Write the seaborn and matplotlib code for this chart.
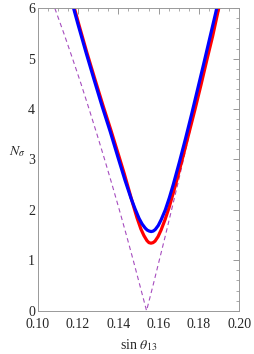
import numpy as np
import pandas as pd
import matplotlib
matplotlib.use("Agg")
import matplotlib.pyplot as plt
from matplotlib.ticker import MultipleLocator
import seaborn as sns

# values (sin theta13 , N sigma)
blue_s = [0.1176, 0.1200, 0.1240, 0.1280, 0.1320, 0.1360, 0.1400, 0.1433, 0.1463, 0.1483,
          0.1503, 0.1518, 0.1533, 0.1543, 0.1553, 0.1563, 0.1573, 0.1583, 0.1598, 0.1613,
          0.1633, 0.1653, 0.1673, 0.1703, 0.1733, 0.1763, 0.1793, 0.1823, 0.1853, 0.1883, 0.1888]
blue_n = [6.03, 5.68, 5.12, 4.58, 4.05, 3.55, 3.02, 2.59, 2.23, 2.02,
          1.83, 1.72, 1.64, 1.60, 1.58, 1.57, 1.58, 1.61, 1.69, 1.81,
          2.00, 2.24, 2.51, 2.95, 3.41, 3.89, 4.39, 4.89, 5.40, 5.91, 6.00]

red_s = [0.1180, 0.1204, 0.1244, 0.1284, 0.1324, 0.1364, 0.1404, 0.1430, 0.1452, 0.1472,
         0.1492, 0.1512, 0.1527, 0.1542, 0.1552, 0.1562, 0.1572, 0.1582, 0.1597, 0.1612,
         0.1632, 0.1652, 0.1672, 0.1690, 0.1720, 0.1750, 0.1780, 0.1810, 0.1840, 0.1868,
         0.1894, 0.1898]
red_n = [6.03, 5.68, 5.12, 4.59, 4.07, 3.57, 3.05, 2.71, 2.40, 2.12,
         1.85, 1.62, 1.49, 1.39, 1.35, 1.34, 1.35, 1.38, 1.47, 1.60,
         1.81, 2.05, 2.33, 2.59, 3.05, 3.52, 3.99, 4.48, 4.99, 5.45,
         5.93, 6.00]

dash_s = [0.1085, 0.1130, 0.1173, 0.1215, 0.1255, 0.1294, 0.1332, 0.1369, 0.1405, 0.1440, 0.1474, 0.1507, 0.1540,
          0.1572, 0.1603, 0.1634, 0.1664, 0.1694, 0.1723, 0.1752, 0.1780, 0.1808, 0.1835, 0.1862, 0.1889]
dash_n = [6.0, 5.5, 5.0, 4.5, 4.0, 3.5, 3.0, 2.5, 2.0, 1.5, 1.0, 0.5, 0.0,
          0.5, 1.0, 1.5, 2.0, 2.5, 3.0, 3.5, 4.0, 4.5, 5.0, 5.5, 6.0]

x_ticks = [0.10, 0.12, 0.14, 0.16, 0.18, 0.20]
y_ticks = [0, 1, 2, 3, 4, 5, 6]

sns.set_style("white")
plt.rcParams['font.family'] = ['Liberation Serif', 'DejaVu Serif']
plt.rcParams['mathtext.fontset'] = 'stix'

fig = plt.figure(figsize=(2.54, 3.54), dpi=100)
ax = fig.add_axes([0.1484, 0.1223, 0.7937, 0.8543])

dash_df = pd.DataFrame({'s': dash_s, 'n': dash_n})
red_df = pd.DataFrame({'s': red_s, 'n': red_n})
blue_df = pd.DataFrame({'s': blue_s, 'n': blue_n})

sns.lineplot(data=dash_df, x='s', y='n', sort=False, estimator=None, ax=ax,
             color='#a64dbf', lw=0.8, linestyle=(0, (4, 3)))
sns.lineplot(data=red_df, x='s', y='n', sort=False, estimator=None, ax=ax,
             color='#ff0000', lw=2.3)
sns.lineplot(data=blue_df, x='s', y='n', sort=False, estimator=None, ax=ax,
             color='#0000ff', lw=2.3)

ax.set_xlim(0.10, 0.20)
ax.set_ylim(0, 6)
ax.set_xticks(x_ticks)
ax.set_xticklabels([f"{v:.2f}" for v in x_ticks])
ax.set_yticks(y_ticks)
ax.xaxis.set_minor_locator(MultipleLocator(0.005))
ax.yaxis.set_minor_locator(MultipleLocator(0.2))
ax.tick_params(which='both', direction='in', top=True, right=True, color='#888888',
               labelsize=10)
ax.tick_params(axis='x', pad=5.5)
ax.tick_params(axis='y', pad=2)
ax.tick_params(which='major', length=4, width=0.6)
ax.tick_params(which='minor', length=2, width=0.5)
for sp in ax.spines.values():
    sp.set_color('#999999')
    sp.set_linewidth(0.7)

ax.set_xlabel(r'sin $\theta_{13}$', fontsize=10, labelpad=4)
ax.set_ylabel(r'$N_\sigma$', fontsize=10, rotation=0)
ax.yaxis.set_label_coords(-0.1, 0.5)

fig.savefig('out.png', dpi=100)
